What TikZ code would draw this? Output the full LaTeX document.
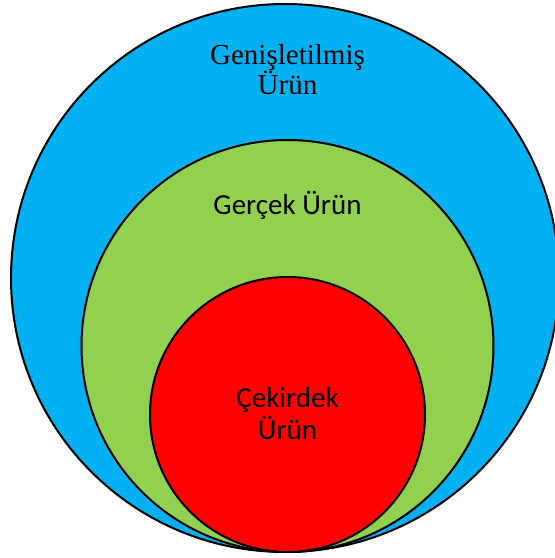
\documentclass[tikz,border=0pt]{standalone}
\usepackage{fontspec}
\setmainfont{Liberation Serif}
\newfontfamily\calibrifont{Carlito}
\usetikzlibrary{positioning}
\definecolor{lyrblue}{HTML}{00B0F0}
\definecolor{lyrgreen}{HTML}{92D050}
\definecolor{lyrred}{HTML}{FF0000}

\begin{document}
\begin{tikzpicture}[
  x=1pt,y=1pt,
  ring/.style={circle,draw=black,line width=2pt,inner sep=0pt},
  lbl/.style={align=center,inner sep=0pt,font=\fontsize{29}{29}\selectfont}]
\useasboundingbox (0,0) rectangle (555,558);
\clip (0,0) rectangle (555,558);
\node[ring,fill=lyrblue,minimum size=548pt] (genis) at (285,280) {};
\node[ring,fill=lyrgreen,minimum size=412pt] (gercek) at (287.5,212) {};
\node[ring,fill=lyrred,minimum size=275pt] (cekirdek) at (287.5,143.5) {};
\node[lbl,anchor=base] (genislbl) at (287.5,463) {Genişletilmiş\\Ürün};
\node[lbl,anchor=base,font=\calibrifont\fontsize{29}{29}\selectfont] (gerceklbl) at (287.5,343) {Gerçek Ürün};
\node[lbl,anchor=base,font=\calibrifont\fontsize{29}{33}\selectfont] (cekirdeklbl) at (287.5,118) {Çekirdek\\Ürün};
\end{tikzpicture}
\end{document}
